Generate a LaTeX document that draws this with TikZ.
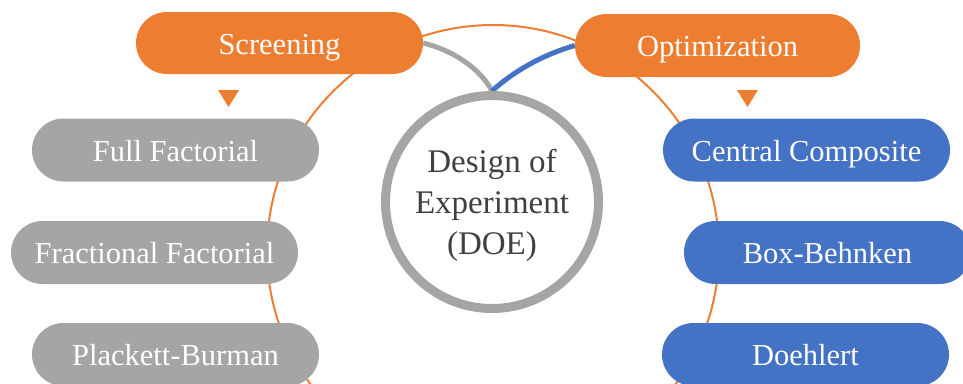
\documentclass[tikz,border=0pt]{standalone}
\usepackage{fontspec}
\setmainfont{Liberation Serif}
\usetikzlibrary{shapes.misc,backgrounds}
\definecolor{doeorange}{HTML}{ED7D31}
\definecolor{doegrey}{HTML}{A5A5A5}
\definecolor{doeblue}{HTML}{4472C4}
\definecolor{doetext}{HTML}{404040}
\tikzset{
 pill/.style={rounded rectangle, minimum width=287pt, minimum height=63pt, inner sep=0pt,
   text=white, font=\fontsize{30.5}{36}\selectfont, text height=22pt, text depth=0pt},
 orangepill/.style={pill, fill=doeorange},
 greypill/.style={pill, fill=doegrey},
 bluepill/.style={pill, fill=doeblue},
 marker/.style={fill=doeorange},
 ring/.style={circle, draw=doegrey, line width=9pt, fill=white, minimum size=213pt, inner sep=0pt},
 ringtext/.style={align=center, text=doetext, font=\fontsize{33}{41}\selectfont, inner sep=0pt},
 guide/.style={draw=doeorange, line width=2pt},
 link/.style={line width=5pt},
}
\begin{document}
\begin{tikzpicture}[x=1pt,y=-1pt]
\clip (0,0) rectangle (963,383);
% central circle
\node[ring] (doe) at (492,202) {};
\node[ringtext] (doelabel) at (492,205.5) {Design of\\Experiment\\(DOE)};
% headers
\node[orangepill, minimum height=62pt] (screening) at (279.5,43) {Screening};
\node[orangepill, minimum width=285pt] (optimization) at (717.5,45.5) {Optimization};
% markers
\fill[marker] (218,90) -- (239,90) -- (228.5,107) -- cycle;
\fill[marker] (737,90) -- (758,90) -- (747.5,107) -- cycle;
% screening designs
\node[greypill] (ff) at (175.5,150) {Full Factorial};
\node[greypill] (frf) at (154.5,252.5) {Fractional Factorial};
\node[greypill] (pb) at (175.5,354.5) {Plackett-Burman};
% optimization designs
\node[bluepill] (cc) at (806.5,150) {Central Composite};
\node[bluepill] (bb) at (827.5,252.5) {Box-Behnken};
\node[bluepill] (dh) at (805.5,354.5) {Doehlert};
\begin{pgfonlayer}{background}
\coordinate (hub) at (493,251);
\draw[guide] (hub) circle[radius=226];
\draw[link, doegrey] (screening.east) .. controls (452,50) and (480,68) .. (doe.north);
\draw[link, doeblue] (doe.north) .. controls (515,70) and (545,54) .. (optimization.west);
\end{pgfonlayer}
\end{tikzpicture}
\end{document}
